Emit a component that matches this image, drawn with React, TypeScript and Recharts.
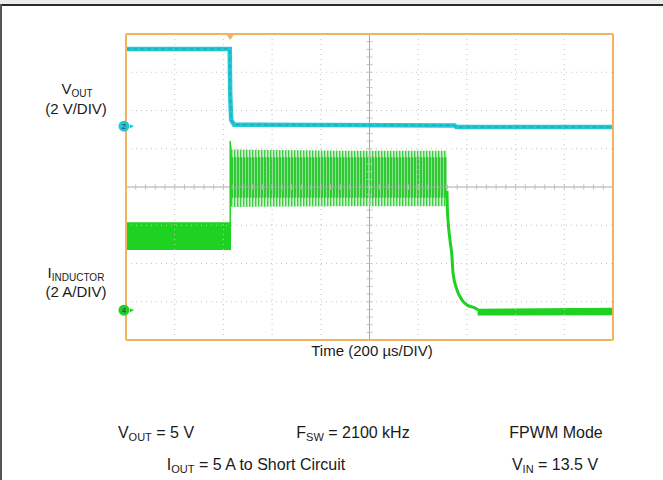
import React from 'react';
import { ComposedChart, Line, Area, XAxis, YAxis, ReferenceLine, ReferenceDot } from 'recharts';

// Screen divisions: 10 horizontal (200 µs/DIV), 8 vertical
const xDivs = [0, 1, 2, 3, 4, 5, 6, 7, 8, 9, 10];
const yDivs = [0, 1, 2, 3, 4, 5, 6, 7, 8];
const xMinor = Array.from({ length: 51 }, (_, i) => i / 5);
const yMinor = Array.from({ length: 41 }, (_, i) => i / 5);

// VOUT trace (divisions)
const voutTrace = [
  { t: 0, v: 7.61 },
  { t: 2.13, v: 7.61 },
  { t: 2.14, v: 6.4 },
  { t: 2.16, v: 5.75 },
  { t: 2.22, v: 5.63 },
  { t: 6.75, v: 5.61 },
  { t: 6.78, v: 5.57 },
  { t: 10, v: 5.57 },
];

// Inductor current envelopes (divisions)
const iPreShort = [
  { t: 0, band: [2.35, 3.08] },
  { t: 2.14, band: [2.35, 3.08] },
];
const iSwitchOuter = [
  { t: 2.14, band: [3.5, 5.2] },
  { t: 2.18, band: [3.48, 4.98] },
  { t: 4.5, band: [3.5, 4.95] },
  { t: 6.59, band: [3.5, 4.95] },
];
const iSwitchInner = [
  { t: 2.15, band: [3.72, 4.78] },
  { t: 6.59, band: [3.72, 4.78] },
];
const iStep = [
  { t: 2.14, v: 2.35 },
  { t: 2.14, v: 5.2 },
];
const iDecay = [
  { t: 6.591, v: 3.9 },
  { t: 6.598, v: 3.477 },
  { t: 6.612, v: 3.137 },
  { t: 6.653, v: 2.614 },
  { t: 6.694, v: 2.17 },
  { t: 6.715, v: 1.752 },
  { t: 6.797, v: 1.307 },
  { t: 6.899, v: 1.046 },
  { t: 7.002, v: 0.915 },
  { t: 7.166, v: 0.837 },
  { t: 7.228, v: 0.784 },
];
const iShorted = [
  { t: 7.22, band: [0.64, 0.82] },
  { t: 10, band: [0.65, 0.84] },
];

const triggerT = 2.14;
const ch2Ground = 5.59;
const ch4Ground = 0.78;

const ORANGE = '#f2b35e';
const CYAN = '#22c8d2';
const GREEN = '#1fd222';
const GRID = '#c4c4c4';
const CENTER = '#a8a8a8';
const CENTER_TICK = '#c0c0c0';

const font = '"Liberation Sans", Arial, Helvetica, sans-serif';

const Sub = ({ children, size = 10 }: { children: React.ReactNode; size?: number }) => (
  <span style={{ fontSize: size, position: 'relative', top: 3 }}>{children}</span>
);

const Label = ({ x, y, size, children }: { x: number; y: number; size: number; children: React.ReactNode }) => (
  <div
    style={{
      position: 'absolute',
      left: x - 150,
      width: 300,
      top: y,
      textAlign: 'center',
      whiteSpace: 'nowrap',
      fontFamily: font,
      fontSize: size,
      lineHeight: `${size + 2}px`,
      color: '#1a1a1a',
    }}
  >
    {children}
  </div>
);

const groundMarker = (fill: string, label: string) => (p: any) => (
  <g>
    <circle cx={p.cx - 2} cy={p.cy} r={5.5} fill={fill} />
    <text x={p.cx - 2} y={p.cy + 3} textAnchor="middle" fontSize={8} fill="#335" fontFamily={font}>
      {label}
    </text>
    <polygon points={`${p.cx + 4},${p.cy - 2} ${p.cx + 8},${p.cy} ${p.cx + 4},${p.cy + 2}`} fill={fill} />
  </g>
);

const triggerMarker = (p: any) => (
  <polygon points={`${p.cx - 4},${p.cy} ${p.cx + 4},${p.cy} ${p.cx},${p.cy + 6}`} fill={ORANGE} />
);

export default function App() {
  return (
    <div style={{ position: 'absolute', left: 0, top: 0, width: 663, height: 480, background: '#fff', overflow: 'hidden' }}>
      <svg width={0} height={0} style={{ position: 'absolute' }}>
        <defs>
          <pattern id="spikesOuter" width={3} height={8} patternUnits="userSpaceOnUse">
            <rect x={0} y={0} width={3} height={8} fill="#d4f2d4" />
            <rect x={0} y={0} width={1.4} height={8} fill="#3fcf42" />
          </pattern>
          <pattern id="spikesInner" width={3} height={8} patternUnits="userSpaceOnUse">
            <rect x={0} y={0} width={3} height={8} fill="#8ee08e" />
            <rect x={0} y={0} width={2} height={8} fill="#2ec934" />
          </pattern>
        </defs>
      </svg>
      {/* page frame */}
      <div style={{ position: 'absolute', left: 0, top: 0, width: 663, height: 4, background: '#ececec' }} />
      <div style={{ position: 'absolute', left: 0, top: 4, width: 663, height: 2, background: '#2a2a2a' }} />
      <div style={{ position: 'absolute', left: 0, top: 4, width: 2, height: 476, background: '#555' }} />

      <div style={{ position: 'absolute', left: 0, top: 0 }}>
        <ComposedChart width={663} height={480} margin={{ top: 34, right: 50, bottom: 140, left: 126 }}>
          <XAxis
            xAxisId={0}
            dataKey="t"
            type="number"
            domain={[0, 10]}
            allowDataOverflow
            ticks={xMinor}
            orientation="bottom"
            mirror
            tick={false}
            tickSize={4}
            tickLine={{ stroke: '#999' }}
            axisLine={{ stroke: ORANGE, strokeWidth: 2 }}
          />
          <XAxis
            xAxisId="top"
            type="number"
            domain={[0, 10]}
            ticks={xMinor}
            orientation="top"
            mirror
            tick={false}
            tickSize={4}
            tickLine={{ stroke: '#999' }}
            axisLine={{ stroke: ORANGE, strokeWidth: 2 }}
          />
          <YAxis
            yAxisId={0}
            type="number"
            domain={[0, 8]}
            allowDataOverflow
            ticks={yMinor}
            orientation="left"
            mirror
            tick={false}
            tickSize={4}
            tickLine={{ stroke: '#999' }}
            axisLine={{ stroke: ORANGE, strokeWidth: 2 }}
          />
          <YAxis
            yAxisId="right"
            type="number"
            domain={[0, 8]}
            ticks={yMinor}
            orientation="right"
            mirror
            tick={false}
            tickSize={4}
            tickLine={{ stroke: '#999' }}
            axisLine={{ stroke: ORANGE, strokeWidth: 2 }}
          />

          {xDivs.filter((d) => d > 0 && d < 10 && d !== 5).map((d) => (
            <ReferenceLine key={'gx' + d} x={d} stroke={GRID} strokeDasharray="1 4" />
          ))}
          {yDivs.filter((d) => d > 0 && d < 8 && d !== 4).map((d) => (
            <ReferenceLine key={'gy' + d} y={d} stroke={GRID} strokeDasharray="1 4" />
          ))}
          <ReferenceLine x={5} stroke={CENTER} />
          <ReferenceLine y={4} stroke={CENTER} />
          {xMinor.filter((d) => d > 0 && d < 10).map((d) => (
            <ReferenceLine
              key={'tx' + d}
              segment={[{ x: d, y: 4 - 0.07 }, { x: d, y: 4 + 0.07 }]}
              stroke={CENTER_TICK}
            />
          ))}
          {yMinor.filter((d) => d > 0 && d < 8).map((d) => (
            <ReferenceLine
              key={'ty' + d}
              segment={[{ x: 5 - 0.06, y: d }, { x: 5 + 0.06, y: d }]}
              stroke={CENTER_TICK}
            />
          ))}

          <Area data={iPreShort} dataKey="band" type="linear" stroke="none" fill={GREEN} fillOpacity={1} isAnimationActive={false} />
          <Area data={iSwitchOuter} dataKey="band" type="linear" stroke="none" fill="url(#spikesOuter)" fillOpacity={1} isAnimationActive={false} />
          <Area data={iSwitchInner} dataKey="band" type="linear" stroke="none" fill="url(#spikesInner)" fillOpacity={1} isAnimationActive={false} />
          <Area data={iShorted} dataKey="band" type="linear" stroke="none" fill={GREEN} fillOpacity={1} isAnimationActive={false} />
          <Line data={iStep} dataKey="v" type="linear" stroke={GREEN} strokeWidth={1.5} dot={false} isAnimationActive={false} />
          <Line data={iDecay} dataKey="v" type="monotone" stroke={GREEN} strokeWidth={3} dot={false} isAnimationActive={false} />

          <Line data={voutTrace} dataKey="v" type="linear" stroke={CYAN} strokeWidth={4.5} dot={false} isAnimationActive={false} />
          <Line data={voutTrace} dataKey="v" type="linear" stroke="#1796a6" strokeWidth={1} strokeDasharray="4 3" strokeOpacity={0.7} dot={false} isAnimationActive={false} />

          <ReferenceDot x={0} y={ch2Ground} r={5} shape={groundMarker(CYAN, '2')} />
          <ReferenceDot x={0} y={ch4Ground} r={5} shape={groundMarker(GREEN, '4')} />
          <ReferenceDot x={triggerT} y={8} r={4} shape={triggerMarker} />
        </ComposedChart>
      </div>

      <Label x={77} y={80} size={15}>
        V<Sub>OUT</Sub>
      </Label>
      <Label x={76} y={100} size={15}>(2 V/DIV)</Label>
      <Label x={76} y={264} size={15}>
        I<Sub>INDUCTOR</Sub>
      </Label>
      <Label x={76} y={283} size={15}>(2 A/DIV)</Label>
      <Label x={372} y={342} size={15}>Time (200 µs/DIV)</Label>

      <Label x={156} y={424} size={16}>
        V<Sub size={11}>OUT</Sub> = 5 V
      </Label>
      <Label x={353} y={424} size={16}>
        F<Sub size={11}>SW</Sub> = 2100 kHz
      </Label>
      <Label x={556} y={424} size={16}>FPWM Mode</Label>
      <Label x={256} y={456} size={16}>
        I<Sub size={11}>OUT</Sub> = 5 A to Short Circuit
      </Label>
      <Label x={555} y={456} size={16}>
        V<Sub size={11}>IN</Sub> = 13.5 V
      </Label>
    </div>
  );
}
